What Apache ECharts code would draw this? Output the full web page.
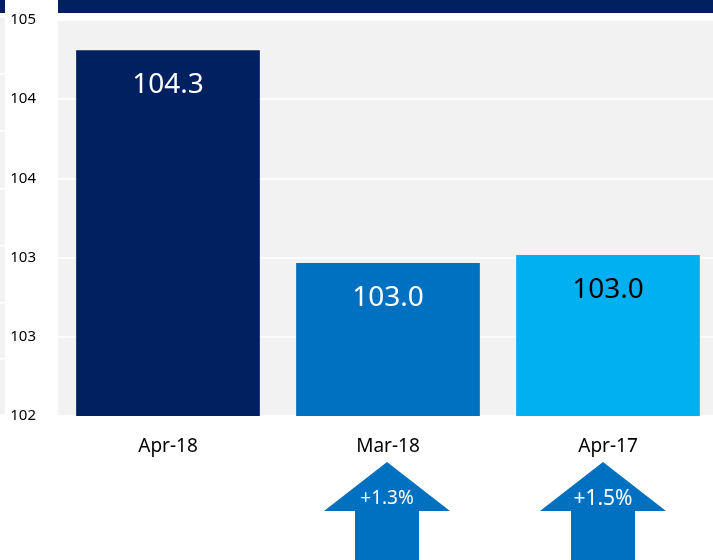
<!DOCTYPE html>
<html>
<head>
<meta charset="utf-8">
<script src="https://cdn.jsdelivr.net/npm/echarts@6/dist/echarts.min.js"></script>
<style>
  html, body { margin: 0; padding: 0; background: #fff; }
  #chart { width: 713px; height: 560px; }
</style>
</head>
<body>
<div id="chart"></div>
<script>
// index values per period
const categories = ['Apr-18', 'Mar-18', 'Apr-17']
const values = [104.77, 103.16, 103.22]
const valueLabels = ['104.3', '103.0', '103.0']
const barColors = ['#002060', '#0070c0', '#00b0f0']
const labelColors = ['#ffffff', '#ffffff', '#000000']
// change of Apr-18 against the other periods
const changeLabels = ['', '+1.3%', '+1.5%']

const FONT = 'Noto Sans'
const chart = echarts.init(document.getElementById('chart'))

chart.setOption({
  animation: false,
  textStyle: { fontFamily: FONT },
  grid: {
    left: 58, width: 660, top: 20, bottom: 144,
    outerBoundsMode: 'none',
    show: true, backgroundColor: '#f2f2f2', borderWidth: 0
  },
  xAxis: {
    type: 'category',
    data: categories,
    axisLine: { show: false },
    axisTick: { show: false },
    axisLabel: { color: '#000', fontSize: 19, margin: 21, fontFamily: FONT }
  },
  yAxis: {
    type: 'value',
    min: 102,
    max: 105,
    interval: 0.6,
    axisLine: { show: false },
    axisTick: { show: false },
    splitLine: { lineStyle: { color: '#ffffff', width: 1.5 } },
    axisLabel: {
      color: '#000', fontSize: 15, margin: 22, fontFamily: FONT,
      formatter: v => String(Math.round(v))
    }
  },
  series: [{
    type: 'bar',
    barWidth: '83.5%',
    data: values.map((v, i) => ({
      value: v,
      itemStyle: { color: barColors[i] },
      label: { color: labelColors[i] }
    })),
    label: {
      show: true,
      position: 'insideTop',
      distance: 21,
      fontSize: 28,
      fontFamily: FONT,
      formatter: p => valueLabels[p.dataIndex]
    }
  }]
})

// decorations: banner at top, cut-off panel on the left, arrows below
const graphics = [
  { type: 'rect', shape: { x: 58, y: 0, width: 660, height: 13 }, style: { fill: '#002060' } },
  { type: 'rect', shape: { x: 0, y: 0, width: 5, height: 13 }, style: { fill: '#002060' } },
  { type: 'rect', shape: { x: 0, y: 18, width: 5, height: 396 }, style: { fill: '#f2f2f2' } }
]
;[73, 130, 188, 245, 302, 358].forEach(y => {
  graphics.push({ type: 'rect', shape: { x: 0, y: y, width: 5, height: 1.5 }, style: { fill: '#ffffff' } })
})

// arrows sit slightly left of the bar centres in the original
const arrowShift = [0, -1, -5]
categories.forEach((c, i) => {
  if (!changeLabels[i]) return
  const cx = chart.convertToPixel({ xAxisIndex: 0 }, c) + arrowShift[i]
  graphics.push({
    type: 'polygon',
    shape: {
      points: [
        [cx, 462], [cx + 63, 511], [cx + 32, 511], [cx + 32, 560],
        [cx - 32, 560], [cx - 32, 511], [cx - 63, 511]
      ]
    },
    style: { fill: '#0070c0' }
  })
  graphics.push({
    type: 'text',
    x: cx, y: 499,
    style: {
      text: changeLabels[i], fill: '#fff', fontSize: i === 2 ? 21 : 19,
      fontFamily: FONT, align: 'center', verticalAlign: 'middle'
    }
  })
})

chart.setOption({ graphic: graphics })
</script>
</body>
</html>
